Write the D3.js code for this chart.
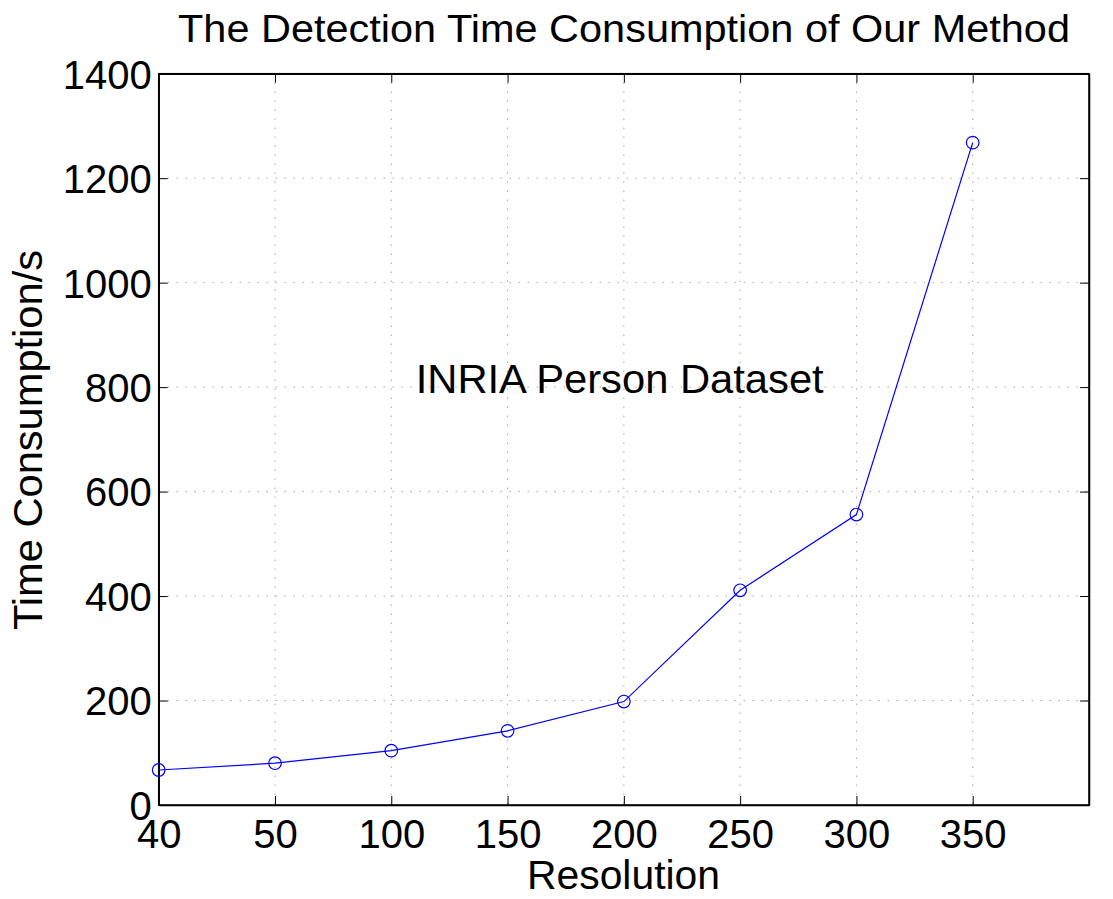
<!DOCTYPE html>
<html>
<head>
<meta charset="utf-8">
<script src="https://cdnjs.cloudflare.com/ajax/libs/d3/7.8.5/d3.min.js"></script>
<style>
  body { margin: 0; background: #fff; }
  text { font-family: "Liberation Sans", Arial, sans-serif; fill: #000; }
</style>
</head>
<body>
<div id="graph"></div>
<script>
// resolutions along the x axis (plotted at equal spacing)
var resolutions = ["40", "50", "100", "150", "200", "250", "300", "350"]
var timeValues  = [67, 80, 104, 142, 198, 411, 556, 1268]
var yTicks      = [0, 200, 400, 600, 800, 1000, 1200, 1400]

var width = 1113, height = 899
var margin = {top: 73.7, left: 158.7, right: 24, bottom: 94}
var chartWidth = width - margin.left - margin.right
var chartHeight = height - margin.top - margin.bottom

var svg = d3.select("#graph").append("svg")
            .attr("width", width).attr("height", height)

var g = svg.append("g").attr("transform", "translate(" + [margin.left, margin.top] + ")")

var x = d3.scaleLinear().domain([0, resolutions.length]).range([0, chartWidth])
var y = d3.scaleLinear().domain([0, 1400]).range([chartHeight, 0])

// grid
g.append("g").selectAll("line").data(d3.range(1, resolutions.length)).enter().append("line")
   .attr("x1", function(d){ return x(d) }).attr("x2", function(d){ return x(d) })
   .attr("y1", 0).attr("y2", chartHeight)
   .attr("stroke", "#808080").attr("stroke-width", 1).attr("stroke-dasharray", "1,8")
g.append("g").selectAll("line").data(yTicks.slice(1, -1)).enter().append("line")
   .attr("y1", function(d){ return y(d) }).attr("y2", function(d){ return y(d) })
   .attr("x1", 0).attr("x2", chartWidth)
   .attr("stroke", "#808080").attr("stroke-width", 1).attr("stroke-dasharray", "1,8")

// axes (box with inward ticks)
var xAxis = d3.axisBottom(x).tickValues(d3.range(resolutions.length))
              .tickFormat(function(d){ return resolutions[d] })
              .tickSizeInner(-9).tickSizeOuter(0).tickPadding(15)
var yAxis = d3.axisLeft(y).tickValues(yTicks).tickFormat(d3.format("d"))
              .tickSizeInner(-9).tickSizeOuter(0).tickPadding(7)

var gx = g.append("g").attr("transform", "translate(0," + chartHeight + ")").call(xAxis)
var gy = g.append("g").call(yAxis)
g.append("g").call(d3.axisTop(x).tickValues(d3.range(resolutions.length)).tickFormat("").tickSizeInner(-9).tickSizeOuter(0))
g.append("g").attr("transform", "translate(" + chartWidth + ",0)")
 .call(d3.axisRight(y).tickValues(yTicks).tickFormat("").tickSizeInner(-9).tickSizeOuter(0))

g.selectAll(".domain").attr("stroke", "#000").attr("stroke-width", 1.5)
g.selectAll(".tick line").attr("stroke", "#000").attr("stroke-width", 1)
gx.selectAll("text").style("font-size", "40px").attr("dy", "0.71em")
gy.selectAll("text").style("font-size", "40px").attr("dy", "0.36em")

g.append("rect").attr("width", chartWidth).attr("height", chartHeight)
 .attr("fill", "none").attr("stroke", "#000").attr("stroke-width", 1.5)

// series
var line = d3.line().x(function(d, i){ return x(i) }).y(function(d){ return y(d) })
g.append("path").datum(timeValues).attr("d", line)
 .attr("fill", "none").attr("stroke", "#0000ff").attr("stroke-width", 1.2)
g.selectAll(".pt").data(timeValues).enter().append("circle").classed("pt", true)
 .attr("cx", function(d, i){ return x(i) }).attr("cy", function(d){ return y(d) })
 .attr("r", 6.3).attr("fill", "none").attr("stroke", "#0000ff").attr("stroke-width", 1.2)

// annotation
g.append("text").attr("x", x(2.21)).attr("y", y(789))
 .style("font-size", "40px").attr("textLength", 408).attr("lengthAdjust", "spacingAndGlyphs")
 .text("INRIA Person Dataset")

// titles
svg.append("text").attr("x", 178).attr("y", 42)
   .style("font-size", "38px").attr("textLength", 892).attr("lengthAdjust", "spacingAndGlyphs")
   .text("The Detection Time Consumption of Our Method")

svg.append("text").attr("x", 527).attr("y", 889)
   .style("font-size", "40px").attr("textLength", 193).attr("lengthAdjust", "spacingAndGlyphs")
   .text("Resolution")

svg.append("text").attr("transform", "translate(42,630) rotate(-90)")
   .style("font-size", "41px").attr("textLength", 380).attr("lengthAdjust", "spacingAndGlyphs")
   .text("Time Consumption/s")
</script>
</body>
</html>
